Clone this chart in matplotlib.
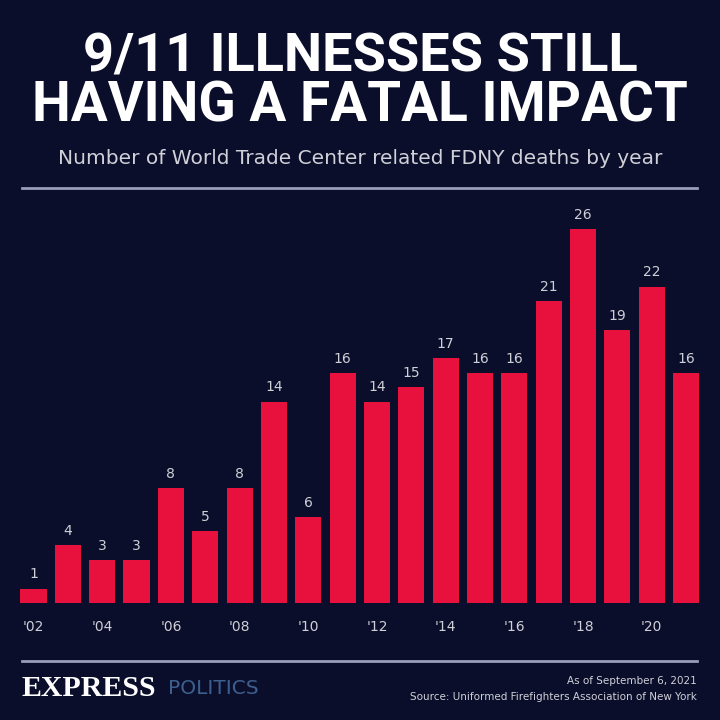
import matplotlib.pyplot as plt

years = ["'02", "'03", "'04", "'05", "'06", "'07", "'08", "'09", "'10", "'11",
         "'12", "'13", "'14", "'15", "'16", "'17", "'18", "'19", "'20", "'21"]
deaths = [1, 4, 3, 3, 8, 5, 8, 14, 6, 16, 14, 15, 17, 16, 16, 21, 26, 19, 22, 16]

bg = '#0a0e2a'
red = '#e8103c'
light = '#d0d0d8'

fig = plt.figure(figsize=(7.2, 7.2), dpi=100, facecolor=bg)

ax = fig.add_axes([0, 117 / 720, 1, 403 / 720])
ax.set_facecolor(bg)
x = list(range(len(deaths)))
ax.bar(x, deaths, width=0.76, color=red)
for i, v in enumerate(deaths):
    ax.text(i, v + 0.5, str(v), ha='center', va='bottom', color=light, fontsize=10)
ax.set_xlim(-0.976, 19.99)
ax.set_ylim(0, 28.02)
for s in ax.spines.values():
    s.set_visible(False)
ax.set_yticks([])
ax.set_xticks(x[::2])
ax.set_xticklabels(years[::2], color=light, fontsize=10)
ax.tick_params(axis='x', length=0, pad=12)

fig.text(0.5, 1 - 57 / 720, '9/11 ILLNESSES STILL', ha='center', va='center',
         color='white', fontsize=39, fontweight='bold', family=['Roboto', 'DejaVu Sans'])
fig.text(0.5, 1 - 107 / 720, 'HAVING A FATAL IMPACT', ha='center', va='center',
         color='white', fontsize=39.5, fontweight='bold', family=['Roboto', 'DejaVu Sans'])
fig.text(0.5, 1 - 158 / 720, 'Number of World Trade Center related FDNY deaths by year',
         ha='center', va='center', color=light, fontsize=14.5)

fig.add_artist(plt.Line2D([22 / 720, 697 / 720], [1 - 188 / 720] * 2, color='#9a9cb8', lw=2))
fig.add_artist(plt.Line2D([22 / 720, 697 / 720], [1 - 661 / 720] * 2, color='#9a9cb8', lw=2))

fig.text(21 / 720, 1 - 688 / 720, 'EXPRESS', ha='left', va='center', color='white',
         fontsize=21.5, fontweight='bold', family='Liberation Serif')
fig.text(168 / 720, 1 - 689 / 720, 'POLITICS', ha='left', va='center', color='#3d5f8f',
         fontsize=14.5)
fig.text(697 / 720, 1 - 681 / 720, 'As of September 6, 2021', ha='right', va='center',
         color=light, fontsize=7.5)
fig.text(697 / 720, 1 - 697 / 720, 'Source: Uniformed Firefighters Association of New York',
         ha='right', va='center', color=light, fontsize=7.5)

fig.savefig('out.png', dpi=100, facecolor=bg)
